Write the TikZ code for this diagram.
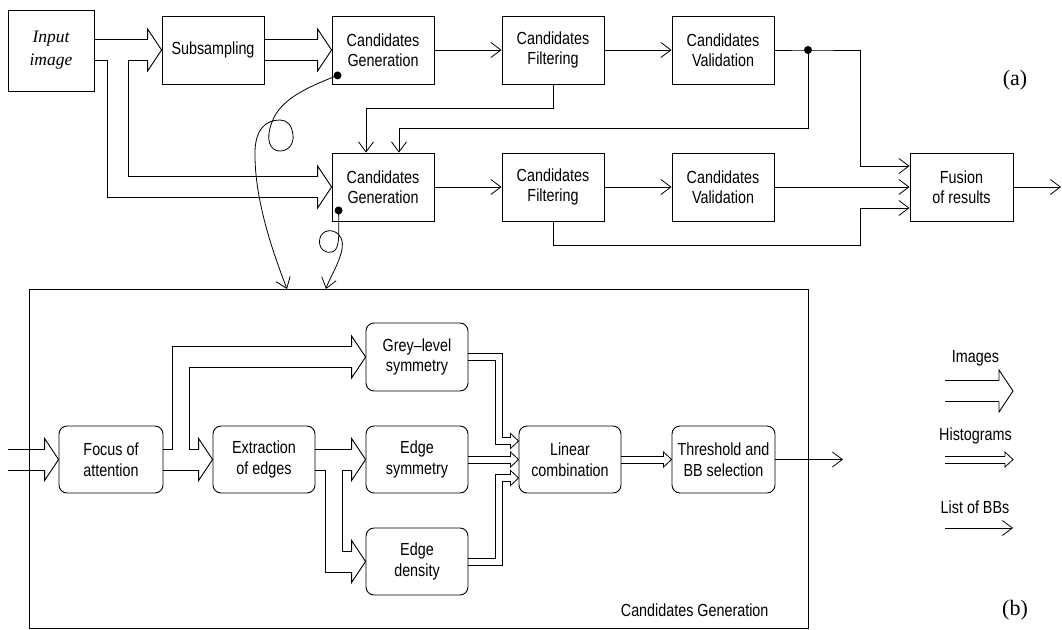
\documentclass[tikz,border=0pt]{standalone}
\usepackage{fontspec}
\setmainfont{Liberation Sans}[FakeStretch=0.82]
\newfontfamily\serifcap{Liberation Serif}
\usetikzlibrary{arrows.meta,calc}
\newcommand\lab{\fontsize{17.5pt}{20.5pt}\selectfont}
\begin{document}
\begin{tikzpicture}[x=1pt,y=-1pt,
 blk/.style={draw,line width=0.9pt,minimum width=102pt,minimum height=68pt,inner sep=0pt,align=center,font=\lab},
 rblk/.style={blk,rounded corners=8pt,minimum height=67pt},
 flow/.style={line width=0.8pt,-{Straight Barb[length=10pt,width=15pt]}},
 wl/.style={line width=0.9pt},
 hl/.style={line width=0.8pt},
 imghead/.pic={\draw[line width=0.9pt] (-14,-10.5)--(-14,-21)--(0,0)--(-14,21)--(-14,10.5);},
 histhead/.pic={\draw[line width=0.8pt] (-8,-3.4)--(-8,-7.5)--(0,0)--(-8,7.5)--(-8,3.4);}
]
\useasboundingbox (0,0) rectangle (1062,629);

% ---------- panel (a) ----------
\node[blk,minimum width=86pt,minimum height=81pt,font=\serifcap\itshape\fontsize{17.5pt}{23pt}\selectfont] (inp) at (51,50.5) {Input\\image};
\node[blk] (sub) at (213,50) {Subsampling};
\node[blk] (cg1) at (383,50) {Candidates\\Generation};
\node[blk] (fi1) at (553,50) {Candidates\\Filtering};
\node[blk] (va1) at (723,50) {Candidates\\Validation};
\node[blk] (cg2) at (383,187) {Candidates\\Generation};
\node[blk] (fi2) at (553,187) {Candidates\\Filtering};
\node[blk] (va2) at (723,187) {Candidates\\Validation};
\node[blk,minimum width=103pt] (fus) at (961.5,187) {Fusion\\of results};

% image arrows
\draw[wl] ($(inp.east)+(0,-11)$) -- ($(sub.west)+(-14,-10.5)$);
\draw[wl] ($(inp.east)+(0,10)$) -- (107,60.5) -- (107,197.5) -- ($(cg2.west)+(-14,10.5)$);
\draw[wl] ($(sub.west)+(-14,10.5)$) -- (128,60.5) -- (128,176.5) -- ($(cg2.west)+(-14,-10.5)$);
\pic at (sub.west) {imghead};
\pic at (cg2.west) {imghead};
\draw[wl] ($(sub.east)+(0,-10.5)$) -- ($(cg1.west)+(-14,-10.5)$);
\draw[wl] ($(sub.east)+(0,10.5)$) -- ($(cg1.west)+(-14,10.5)$);
\pic at (cg1.west) {imghead};

% list arrows
\draw[flow] (cg1) -- (fi1);
\draw[flow] (fi1) -- (va1);
\coordinate (d1) at (808,50);
\draw[flow] (va1.east) -- (d1) -- (860,50) -- (860,166) -- ($(fus.west)+(0,-21)$);
\draw[flow] (d1) -- (808,128) -- (399,128) -- ($(cg2.north)+(16,0)$);
\draw[flow] (fi1.south) -- (553,108) -- (366,108) -- ($(cg2.north)+(-17,0)$);
\fill (d1) circle (4pt);
\draw[flow] (cg2) -- (fi2);
\draw[flow] (fi2) -- (va2);
\draw[flow] (va2) -- (fus);
\coordinate (aout) at (1061,187);
\draw[flow] (fus) -- (aout);
\draw[flow] (fi2.south) -- (553,245) -- (860,245) -- (860,208) -- ($(fus.west)+(0,21)$);

% zoom curves
\coordinate (d2) at ($(cg1.south west)+(6,-9)$);
\coordinate (d3) at ($(cg2.south west)+(7,-11)$);
\fill (d2) circle (4pt);
\fill (d3) circle (4pt);
\draw[flow] (d2) .. controls (305,88) and (280,100) .. (272,122)
  .. controls (265,140) and (270,151) .. (280,151)
  .. controls (290,151) and (294,142) .. (293,135)
  .. controls (292,125) and (287,120) .. (280,120)
  .. controls (265,120) and (256,130) .. (255,150)
  .. controls (254,195) and (270,245) .. (287,289);
\draw[flow] (d3) .. controls (339,235) and (340,250) .. (332,252)
  .. controls (322,254) and (318,245) .. (320,238)
  .. controls (322,230) and (333,228) .. (339,235)
  .. controls (345,242) and (342,252) .. (338,262)
  .. controls (334,272) and (328,282) .. (326,289);

\node[font=\serifcap\fontsize{22pt}{22pt}\selectfont] (la) at (1015,80) {(a)};

% ---------- panel (b) ----------
\node[draw,line width=0.9pt,minimum width=779pt,minimum height=339pt,inner sep=0pt] (panel) at (418.5,458.5) {};
\node[font=\lab,anchor=east] (cglab) at (772,610) {Candidates Generation};

\node[rblk,minimum width=104pt] (foc) at (111,459.5) {Focus of\\attention};
\node[rblk] (ext) at (264,459.5) {Extraction\\of edges};
\node[rblk,minimum height=68pt] (gre) at (417,357) {Grey--level\\symmetry};
\node[rblk] (esy) at (417,459.5) {Edge\\symmetry};
\node[rblk] (eden) at (417,561.5) {Edge\\density};
\node[rblk] (lin) at (570,459.5) {Linear\\combination};
\node[rblk,minimum width=103pt] (thr) at (723.5,459.5) {Threshold and\\BB selection};

\coordinate (bin) at (8,459.5);
\draw[wl] ($(bin)+(0,-10.5)$) -- ($(foc.west)+(-14,-10.5)$);
\draw[wl] ($(bin)+(0,10.5)$) -- ($(foc.west)+(-14,10.5)$);
\pic at (foc.west) {imghead};

\draw[wl] ($(foc.east)+(0,10.5)$) -- ($(ext.west)+(-14,10.5)$);
\draw[wl] ($(foc.east)+(0,-10.5)$) -- (172,449) -- (172,346.5) -- ($(gre.west)+(-14,-10.5)$);
\draw[wl] ($(ext.west)+(-14,-10.5)$) -- (189,449) -- (189,367.5) -- ($(gre.west)+(-14,10.5)$);
\pic at (ext.west) {imghead};
\pic at (gre.west) {imghead};

\draw[wl] ($(ext.east)+(0,-10.5)$) -- ($(esy.west)+(-14,-10.5)$);
\draw[wl] ($(ext.east)+(0,10.5)$) -- (325,470) -- (325,572) -- ($(eden.west)+(-14,10.5)$);
\draw[wl] ($(esy.west)+(-14,10.5)$) -- (342,470) -- (342,551) -- ($(eden.west)+(-14,-10.5)$);
\pic at (esy.west) {imghead};
\pic at (eden.west) {imghead};

% histogram arrows (pairs of lines)
\draw[hl] ($(gre.east)+(0,-3.4)$) -- (502,353.6) -- (502,437.6) -- ($(lin.west)+(-8,-21.9)$);
\draw[hl] ($(gre.east)+(0,3.4)$) -- (495,360.4) -- (495,444.4) -- ($(lin.west)+(-8,-15.1)$);
\pic at ($(lin.west)+(0,-18.5)$) {histhead};
\draw[hl] ($(esy.east)+(0,-3.4)$) -- ($(lin.west)+(-8,-3.4)$);
\draw[hl] ($(esy.east)+(0,3.4)$) -- ($(lin.west)+(-8,3.4)$);
\pic at (lin.west) {histhead};
\draw[hl] ($(eden.east)+(0,-3.4)$) -- (495,558.1) -- (495,474.6) -- ($(lin.west)+(-8,15.1)$);
\draw[hl] ($(eden.east)+(0,3.4)$) -- (502,564.9) -- (502,481.4) -- ($(lin.west)+(-8,21.9)$);
\pic at ($(lin.west)+(0,18.5)$) {histhead};
\draw[hl] ($(lin.east)+(0,-3.4)$) -- ($(thr.west)+(-8,-3.4)$);
\draw[hl] ($(lin.east)+(0,3.4)$) -- ($(thr.west)+(-8,3.4)$);
\pic at (thr.west) {histhead};
\coordinate (bout) at (843,459.5);
\draw[flow] (thr.east) -- (bout);

% legend
\node[font=\lab] (limg) at (975.5,358) {Images};
\coordinate (li0) at (945,391);
\coordinate (li1) at (1013,391);
\draw[wl] ($(li0)+(0,-10.5)$) -- ($(li1)+(-14,-10.5)$);
\draw[wl] ($(li0)+(0,10.5)$) -- ($(li1)+(-14,10.5)$);
\pic at (li1) {imghead};
\node[font=\lab] (lhis) at (975.5,436) {Histograms};
\coordinate (lh0) at (945,459.5);
\coordinate (lh1) at (1013,459.5);
\draw[hl] ($(lh0)+(0,-3.4)$) -- ($(lh1)+(-8,-3.4)$);
\draw[hl] ($(lh0)+(0,3.4)$) -- ($(lh1)+(-8,3.4)$);
\pic at (lh1) {histhead};
\node[font=\lab] (llist) at (975,507) {List of BBs};
\coordinate (ll0) at (945,528);
\coordinate (ll1) at (1013,528);
\draw[flow] (ll0) -- (ll1);
\node[font=\serifcap\fontsize{22pt}{22pt}\selectfont] (lb) at (1015,610) {(b)};
\end{tikzpicture}
\end{document}
